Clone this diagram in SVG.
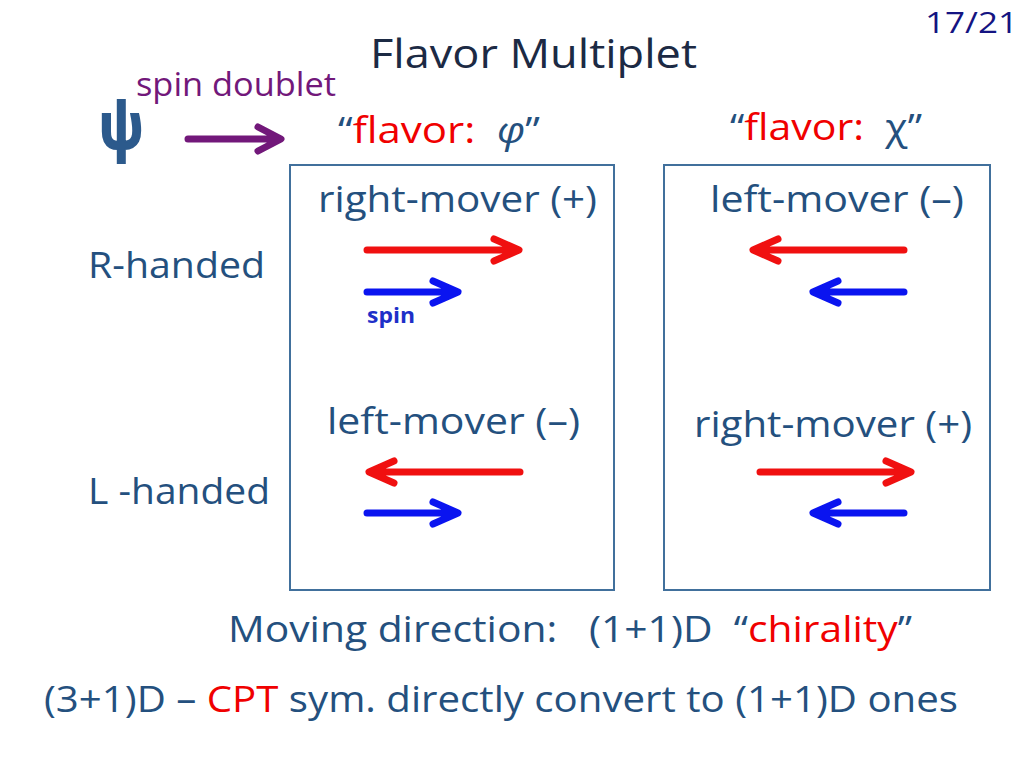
<svg xmlns="http://www.w3.org/2000/svg" width="1024" height="768" viewBox="0 0 1024 768">
<defs>
<style>
text{font-family:"Open Sans","Liberation Sans",sans-serif;fill:#24507e;white-space:pre}
.t36{font-size:36px}
.red{fill:#f00000}
.box{fill:none;stroke:#41709c;stroke-width:2}
.arr{fill:none;stroke-width:7;stroke-linecap:round;stroke-linejoin:round}
.r{stroke:#f01010}
.b{stroke:#0a14f0}
.p{stroke:#72187a}
</style>
</defs>
<rect width="1024" height="768" fill="#fff"/>
<text x="925" y="33" style="font-size:30px;fill:#141482" textLength="93" lengthAdjust="spacingAndGlyphs">17/21</text>
<text x="370" y="68" style="font-size:40px;fill:#1c2a44" textLength="327" lengthAdjust="spacingAndGlyphs">Flavor Multiplet</text>
<g id="psi">
<text x="121" y="148" text-anchor="middle" transform="translate(121 0) scale(0.85 1) translate(-121 0)" style="font-size:62px;font-weight:bold;fill:#2c5a8c;stroke:#2c5a8c;stroke-width:2">ψ</text>
</g>
<g id="spin-doublet">
<text x="136" y="96" style="font-size:32px;fill:#72187a" textLength="200" lengthAdjust="spacingAndGlyphs">spin doublet</text>
</g>
<g id="flavor-phi">
<text x="338" y="143" class="t36" textLength="202" lengthAdjust="spacingAndGlyphs">“<tspan class="red">flavor:</tspan>  <tspan style="font-style:italic">φ</tspan>”</text>
</g>
<g id="flavor-chi">
<text x="730" y="140" class="t36" textLength="192" lengthAdjust="spacingAndGlyphs">“<tspan class="red">flavor:</tspan>  χ”</text>
</g>
<g id="box-phi">
<rect class="box" x="290" y="165" width="324" height="425"/>
<text x="318" y="212" class="t36" textLength="279" lengthAdjust="spacingAndGlyphs">right-mover (+)</text>
<text x="327" y="434" class="t36" textLength="253" lengthAdjust="spacingAndGlyphs">left-mover (–)</text>
<text x="367" y="323" style="font-size:21px;font-weight:bold;fill:#1e2fc8" textLength="48" lengthAdjust="spacingAndGlyphs">spin</text>
</g>
<g id="box-chi">
<rect class="box" x="664" y="165" width="326" height="425"/>
<text x="710" y="212" class="t36" textLength="254" lengthAdjust="spacingAndGlyphs">left-mover (–)</text>
<text x="694" y="437" class="t36" textLength="278" lengthAdjust="spacingAndGlyphs">right-mover (+)</text>
</g>
<g id="r-handed"><text x="88" y="278" class="t36" textLength="177" lengthAdjust="spacingAndGlyphs">R-handed</text></g>
<g id="l-handed"><text x="88" y="504" class="t36" textLength="182" lengthAdjust="spacingAndGlyphs">L -handed</text></g>
<g id="connectors">
<path class="arr p" d="M188 139H280M258 127L281 139L258 151"/>
<path class="arr r" d="M367 250H518M494 239L519 250L494 261"/>
<path class="arr b" d="M367 292H456M433 281L458 292L433 303"/>
<path class="arr r" d="M904 250H754M778 239L753 250L778 261"/>
<path class="arr b" d="M904 292H814M838 281L813 292L838 303"/>
<path class="arr r" d="M520 472H370M394 461L369 472L394 483"/>
<path class="arr b" d="M367 513H456M433 502L458 513L433 524"/>
<path class="arr r" d="M760 472H910M886 461L911 472L886 483"/>
<path class="arr b" d="M904 513H814M838 502L813 513L838 524"/>
</g>
<g id="moving-direction">
<text x="228" y="642" class="t36" textLength="684" lengthAdjust="spacingAndGlyphs">Moving direction:   (1+1)D  “<tspan class="red">chirality</tspan>”</text>
</g>
<g id="cpt">
<text x="44" y="712" class="t36" textLength="914" lengthAdjust="spacingAndGlyphs">(3+1)D – <tspan class="red">CPT</tspan> sym. directly convert to (1+1)D ones</text>
</g>
</svg>
